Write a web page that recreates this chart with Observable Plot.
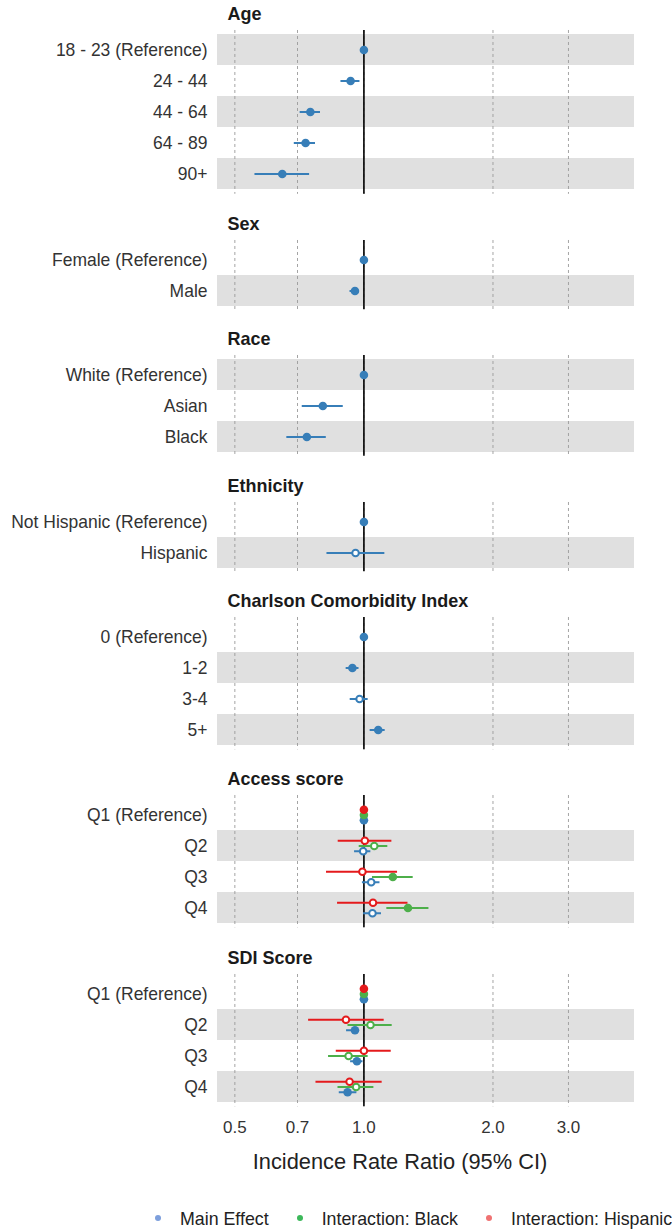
<!DOCTYPE html>
<html>
<head>
<meta charset="utf-8">
<script src="https://cdn.jsdelivr.net/npm/d3@7"></script>
<script src="https://cdn.jsdelivr.net/npm/@observablehq/plot@0.6"></script>
<style>
  html, body { margin: 0; padding: 0; background: #fff; }
  #chart { position: relative; width: 672px; height: 1230px; overflow: hidden;
           font-family: "Liberation Sans", Arial, sans-serif; color: #222; }
  #chart svg { display: block; }
  #xtitle { position: absolute; top: 1148px; left: 200px; width: 400px; text-align: center;
            font-size: 21.8px; line-height: 28px; color: #222; white-space: nowrap; }
  #legend { position: absolute; top: 1207px; left: 155px; line-height: 24px; font-size: 17.8px;
            white-space: nowrap; color: #222; }
  #legend .dot { display: inline-block; width: 6px; height: 6px; border-radius: 50%;
                 vertical-align: middle; margin-right: 19px; position: relative; top: -2px; }
  #legend .item { margin-right: 28px; }
</style>
</head>
<body>
<div id="chart"></div>
<script>
// ---------------- data ----------------
const groupNames = ["Age", "Sex", "Race", "Ethnicity", "Charlson Comorbidity Index", "Access score", "SDI Score"];
const groupSizes = [5, 2, 3, 2, 4, 4, 4];
const rowLabels = [
  "18 - 23 (Reference)", "24 - 44", "44 - 64", "64 - 89", "90+",
  "Female (Reference)", "Male",
  "White (Reference)", "Asian", "Black",
  "Not Hispanic (Reference)", "Hispanic",
  "0 (Reference)", "1-2", "3-4", "5+",
  "Q1 (Reference)", "Q2", "Q3", "Q4",
  "Q1 (Reference)", "Q2", "Q3", "Q4"
];
const seriesNames = ["Main Effect", "Interaction: Black", "Interaction: Hispanic"];
const seriesColors = ["#377EB8", "#4DAF4A", "#E41A1C"];
const legendColors = ["#7d9fdc", "#3cb85a", "#f07272"];

const mainEst  = [1, 0.931, 0.750, 0.731, 0.645, 1, 0.953, 1, 0.802, 0.736, 1, 0.956, 1, 0.940, 0.977, 1.080, 1, 0.996, 1.040, 1.047, 1, 0.953, 0.963, 0.916];
const mainLow  = [1, 0.884, 0.710, 0.688, 0.557, 1, 0.928, 1, 0.718, 0.661, 1, 0.820, 1, 0.909, 0.929, 1.034, 1, 0.951, 0.992, 0.998, 1, 0.911, 0.931, 0.876];
const mainHigh = [1, 0.979, 0.792, 0.771, 0.747, 1, 0.976, 1, 0.895, 0.817, 1, 1.119, 1, 0.974, 1.023, 1.121, 1, 1.038, 1.090, 1.099, 1, 0.977, 0.995, 0.963];
const mainSig  = [1, 1, 1, 1, 1, 1, 1, 1, 1, 1, 1, 0, 1, 1, 0, 1, 1, 0, 0, 0, 1, 1, 1, 1];

const N = null;
const blackEst  = [N,N,N,N,N, N,N, N,N,N, N,N, N,N,N,N, 1, 1.057, 1.168, 1.267, 1, 1.036, 0.921, 0.959];
const blackLow  = [N,N,N,N,N, N,N, N,N,N, N,N, N,N,N,N, 1, 0.975, 1.047, 1.131, 1, 0.918, 0.827, 0.870];
const blackHigh = [N,N,N,N,N, N,N, N,N,N, N,N, N,N,N,N, 1, 1.137, 1.303, 1.418, 1, 1.164, 1.023, 1.055];
const blackSig  = [N,N,N,N,N, N,N, N,N,N, N,N, N,N,N,N, 1, 0, 1, 1, 1, 0, 0, 0];

const hispEst  = [N,N,N,N,N, N,N, N,N,N, N,N, N,N,N,N, 1, 1.005, 0.992, 1.050, 1, 0.908, 1.000, 0.926];
const hispLow  = [N,N,N,N,N, N,N, N,N,N, N,N, N,N,N,N, 1, 0.871, 0.818, 0.868, 1, 0.743, 0.862, 0.773];
const hispHigh = [N,N,N,N,N, N,N, N,N,N, N,N, N,N,N,N, 1, 1.162, 1.198, 1.267, 1, 1.115, 1.158, 1.103];
const hispSig  = [N,N,N,N,N, N,N, N,N,N, N,N, N,N,N,N, 1, 0, 0, 0, 1, 0, 0, 0];

const xTicks = [0.5, 0.7, 1.0, 2.0, 3.0];
const xTitle = "Incidence Rate Ratio (95% CI)";

// ---------------- layout ----------------
const unit = 31.5;          // px per row
const firstTop = 30, gapTop = 46;
const xDomain = [0.4555, 4.277];
const font = "'Liberation Sans', Arial, sans-serif";

const seriesArrays = [
  [mainEst, mainLow, mainHigh, mainSig],
  [blackEst, blackLow, blackHigh, blackSig],
  [hispEst, hispLow, hispHigh, hispSig]
];

const chart = document.getElementById("chart");
let start = 0;
groupNames.forEach((gName, gi) => {
  const n = groupSizes[gi];
  const idx = d3.range(start, start + n);
  start += n;
  const labels = idx.map(i => rowLabels[i]);
  const recs = [];
  idx.forEach(i => {
    seriesArrays.forEach(([e, lo, hi, sg], si) => {
      if (e[i] == null) return;
      recs.push({label: rowLabels[i], series: seriesNames[si], si, est: e[i], lo: lo[i], hi: hi[i], sig: !!sg[i]});
    });
  });
  const hasInter = recs.some(r => r.si > 0);
  const off = unit / 6;
  const dyOf = si => hasInter ? [off, 0, -off][si] : 0;
  const bands = labels.filter((l, j) => (n - 1 - j) % 2 === 0);
  const isLast = gi === groupNames.length - 1;
  const mTop = gi === 0 ? firstTop : gapTop;
  const mBottom = isLast ? 35 : 0;

  const marks = [
    Plot.barX(bands, {y: d => d, x1: xDomain[0], x2: xDomain[1], fill: "#e0e0e0"}),
    Plot.ruleX(xTicks, {stroke: "#9a9a9a", strokeWidth: 0.9, strokeDasharray: "3,3"}),
    Plot.ruleX([1], {stroke: "#000", strokeWidth: 1.6}),
    Plot.axisY({tickSize: 0, tickPadding: 10, fontSize: 17.5, fill: "#333", label: null}),
    Plot.text([gName], {text: d => d, frameAnchor: "top-left", dx: 10, dy: -16, lineAnchor: "middle",
                        textAnchor: "start", fontWeight: "bold", fontSize: 18, fill: "#1a1a1a"})
  ];
  [0, 1, 2].forEach(si => {
    const data = recs.filter(r => r.si === si);
    if (!data.length) return;
    const color = seriesColors[si];
    const dy = dyOf(si);
    marks.push(Plot.ruleY(data.filter(r => r.hi > r.lo), {y: "label", x1: "lo", x2: "hi", stroke: color, strokeWidth: 2, dy}));
    marks.push(Plot.dot(data.filter(r => r.sig), {x: "est", y: "label", dy, r: 4.3, fill: color, stroke: "none"}));
    marks.push(Plot.dot(data.filter(r => !r.sig), {x: "est", y: "label", dy, r: 3.3, fill: "white", stroke: color, strokeWidth: 2}));
  });
  if (isLast) {
    marks.push(Plot.axisX({ticks: xTicks, tickSize: 0, tickPadding: 14, tickFormat: d3.format(".1f"),
                           fontSize: 17, fill: "#333", label: null}));
  }

  const svg = Plot.plot({
    width: 672,
    height: mTop + (n + 0.2) * unit + mBottom,
    marginLeft: 217, marginRight: 38, marginTop: mTop, marginBottom: mBottom,
    style: {fontFamily: font, background: "white", overflow: "visible"},
    x: {type: "log", domain: xDomain, axis: isLast ? undefined : null},
    y: {type: "band", domain: labels, paddingInner: 0, paddingOuter: 0.1, axis: null},
    marks
  });
  chart.appendChild(svg);
});

// axis title
const xt = document.createElement("div");
xt.id = "xtitle";
xt.textContent = xTitle;
chart.appendChild(xt);

// legend
const lg = document.createElement("div");
lg.id = "legend";
seriesNames.forEach((s, i) => {
  const item = document.createElement("span");
  item.className = "item";
  const dot = document.createElement("span");
  dot.className = "dot";
  dot.style.background = legendColors[i];
  item.appendChild(dot);
  item.appendChild(document.createTextNode(s));
  lg.appendChild(item);
});
chart.appendChild(lg);
</script>
</body>
</html>
